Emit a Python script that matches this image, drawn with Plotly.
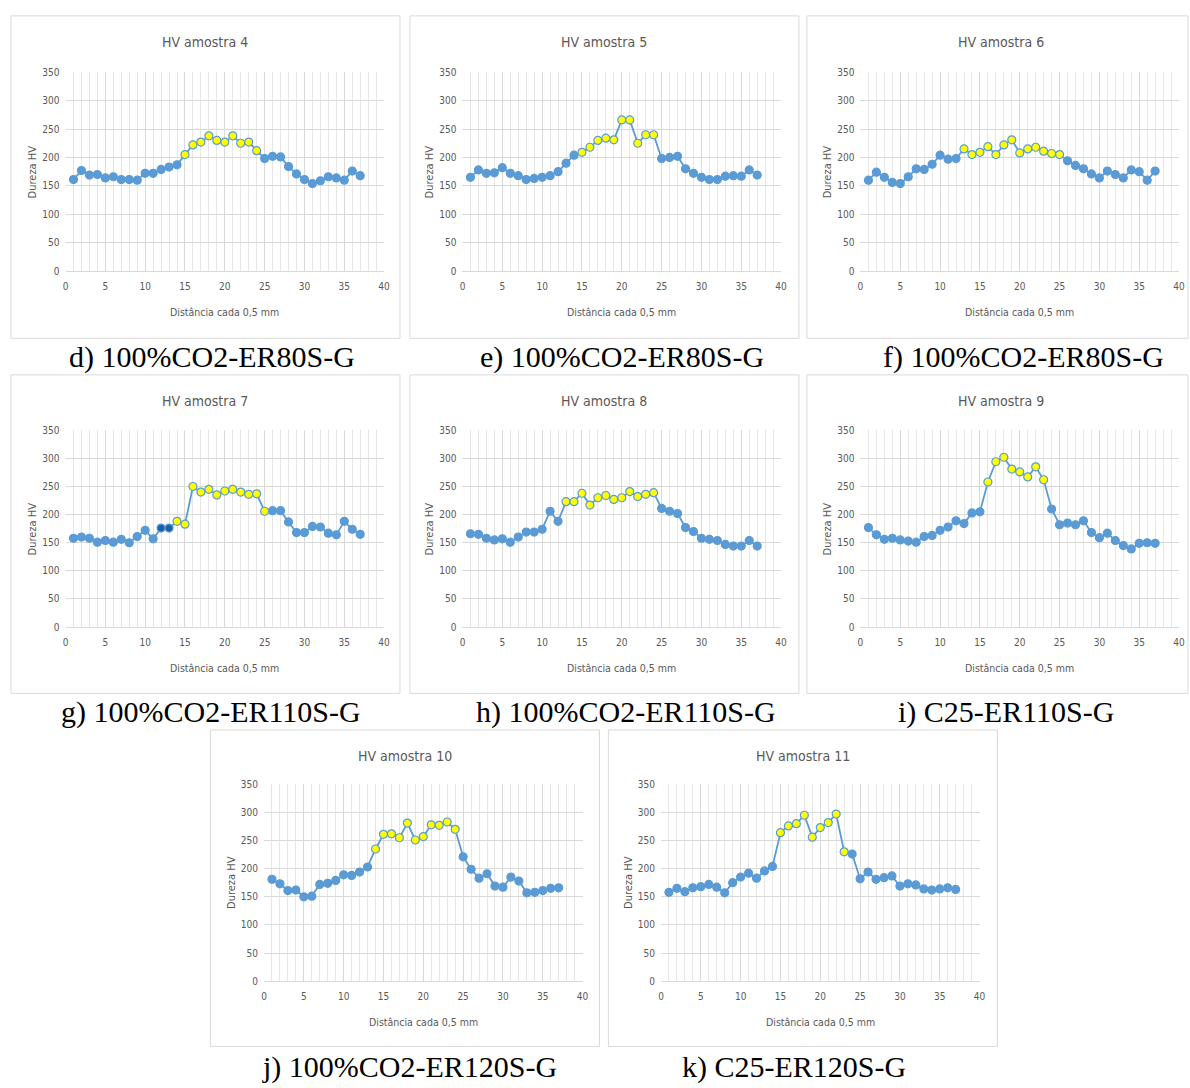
import plotly.graph_objects as go

W, H = 1190, 1088

# ---------------- data ----------------
positions = list(range(1, 38))  # measurement index (every 0.5 mm)

hv_4 = [161, 177, 169, 170, 164, 166, 161, 161, 160, 172, 172, 179, 183, 187, 205, 222, 227, 238, 230, 227,
        238, 225, 227, 212, 198, 202, 201, 184, 171, 161, 154, 159, 166, 164, 160, 176, 168]
hv_5 = [165, 178, 172, 173, 182, 172, 168, 161, 163, 165, 168, 175, 190, 204, 209, 218, 230, 234, 231, 266,
        266, 225, 240, 240, 198, 200, 202, 180, 172, 165, 161, 161, 167, 168, 167, 178, 169]
hv_6 = [160, 174, 165, 156, 154, 166, 180, 179, 188, 204, 197, 198, 215, 205, 209, 219, 205, 222, 231, 208,
        215, 218, 211, 207, 205, 194, 186, 180, 171, 164, 176, 170, 164, 178, 175, 160, 176]
hv_7 = [158, 160, 158, 151, 154, 151, 156, 150, 161, 172, 157, 176, 176, 188, 183, 250, 240, 245, 235, 242,
        245, 240, 236, 237, 206, 207, 207, 187, 168, 168, 179, 178, 167, 164, 188, 174, 165]
hv_8 = [166, 165, 158, 155, 157, 151, 160, 169, 169, 174, 206, 188, 223, 223, 238, 217, 230, 234, 227, 230,
        241, 232, 236, 239, 211, 206, 202, 177, 170, 158, 156, 154, 147, 144, 144, 154, 144]
hv_9 = [177, 164, 156, 158, 155, 153, 151, 161, 163, 172, 178, 189, 184, 203, 205, 258, 294, 302, 281, 276,
        267, 285, 262, 210, 182, 185, 182, 189, 168, 159, 167, 154, 145, 139, 149, 150, 149]
hv_10 = [181, 173, 161, 162, 150, 151, 172, 174, 179, 189, 188, 194, 203, 235, 261, 262, 255, 281, 251, 257,
         278, 277, 283, 270, 221, 199, 183, 191, 169, 167, 185, 178, 157, 158, 161, 165, 166]
hv_11 = [158, 165, 159, 166, 168, 172, 167, 157, 175, 185, 192, 183, 196, 204, 264, 276, 280, 295, 256, 273,
         282, 297, 230, 226, 182, 194, 181, 184, 187, 169, 173, 171, 164, 162, 164, 166, 163]

# positions drawn with yellow markers (fusion zone) in each sample
yellow_4 = [15, 16, 17, 18, 19, 20, 21, 22, 23, 24]
yellow_5 = [15, 16, 17, 18, 19, 20, 21, 22, 23, 24]
yellow_6 = [13, 14, 15, 16, 17, 18, 19, 20, 21, 22, 23, 24, 25]
yellow_7 = [14, 15, 16, 17, 18, 19, 20, 21, 22, 23, 24, 25]
yellow_8 = [13, 14, 15, 16, 17, 18, 19, 20, 21, 22, 23, 24]
yellow_9 = [16, 17, 18, 19, 20, 21, 22, 23]
yellow_10 = [14, 15, 16, 17, 18, 19, 20, 21, 22, 23, 24]
yellow_11 = [15, 16, 17, 18, 19, 20, 21, 22, 23]
dark_7 = [12, 13]

titles = ["HV amostra 4", "HV amostra 5", "HV amostra 6", "HV amostra 7",
          "HV amostra 8", "HV amostra 9", "HV amostra 10", "HV amostra 11"]
captions = ["d) 100%CO2-ER80S-G", "e) 100%CO2-ER80S-G", "f) 100%CO2-ER80S-G",
            "g) 100%CO2-ER110S-G", "h) 100%CO2-ER110S-G", "i) C25-ER110S-G",
            "j) 100%CO2-ER120S-G", "k) C25-ER120S-G"]
x_title = "Distância cada 0,5 mm"
y_title = "Dureza HV"

series = [hv_4, hv_5, hv_6, hv_7, hv_8, hv_9, hv_10, hv_11]
yellows = [yellow_4, yellow_5, yellow_6, yellow_7, yellow_8, yellow_9, yellow_10, yellow_11]
darks = [[], [], [], dark_7, [], [], [], []]

# ---------------- layout geometry (pixels) ----------------
# plot area: L, R, T, B ; box: x0, y0, x1, y1 ; caption center x, y
panels = [
    dict(L=63, R=384, T=67, B=268, box=(8, 10, 400, 336), cap=(211, 355)),
    dict(L=463, R=784, T=67, B=268, box=(410, 10, 802, 336), cap=(624, 355)),
    dict(L=864, R=1185, T=67, B=268, box=(810, 10, 1194, 336), cap=(1028, 355)),
    dict(L=63, R=384, T=429, B=628, box=(8, 373, 400, 695), cap=(210, 714)),
    dict(L=463, R=784, T=429, B=628, box=(410, 373, 802, 695), cap=(628, 714)),
    dict(L=864, R=1185, T=429, B=628, box=(810, 373, 1194, 695), cap=(1011, 714)),
    dict(L=263, R=584, T=787, B=986, box=(209, 732, 601, 1052), cap=(410, 1073)),
    dict(L=663, R=984, T=787, B=986, box=(610, 732, 1002, 1052), cap=(797, 1073)),
]

BLUE = "#5b9bd5"
YEL = "#ffff00"
DARK = "#1f5fa8"
GRID = "#d9d9d9"
TXT = "#595959"
SANS = "Liberation Sans Narrow, DejaVu Sans Condensed, Roboto, sans-serif"
SERIF = "Liberation Serif, Times New Roman, serif"

def px(x):
    return x / W

def py(y):
    return 1 - y / H

fig = go.Figure()
shapes = []
annotations = []
layout_axes = {}

for i, (p, vals, yl, dk) in enumerate(zip(panels, series, yellows, darks)):
    n = i + 1
    xa = "x" if n == 1 else f"x{n}"
    ya = "y" if n == 1 else f"y{n}"
    colors = []
    for xv in positions:
        if xv in yl:
            colors.append(YEL)
        elif xv in dk:
            colors.append(DARK)
        else:
            colors.append(BLUE)
    fig.add_trace(go.Scatter(
        x=positions, y=vals, mode="lines+markers", xaxis=xa, yaxis=ya,
        line=dict(color=BLUE, width=1.8),
        marker=dict(size=8, color=colors, line=dict(color=BLUE, width=1.2)),
        showlegend=False, hoverinfo="x+y"))

    layout_axes[f"xaxis{'' if n == 1 else n}"] = dict(
        domain=[px(p["L"]), px(p["R"])], anchor=ya, range=[0, 40], dtick=5,
        showgrid=True, gridcolor=GRID, gridwidth=1,
        minor=dict(dtick=1, showgrid=True, gridcolor="#e6e6e6", gridwidth=1),
        showline=True, linecolor=GRID, linewidth=1, zeroline=False,
        ticks="", ticklabelstandoff=6,
        tickfont=dict(family=SANS, size=10, color=TXT), fixedrange=True)
    layout_axes[f"yaxis{'' if n == 1 else n}"] = dict(
        domain=[py(p["B"]), py(p["T"])], anchor=xa, range=[0, 350], dtick=50,
        showgrid=True, gridcolor=GRID, gridwidth=1, zeroline=False, showline=False,
        ticks="", ticklabelstandoff=5,
        tickfont=dict(family=SANS, size=10, color=TXT), fixedrange=True)

    bx0, by0, bx1, by1 = p["box"]
    shapes.append(dict(type="rect", xref="paper", yref="paper",
                       x0=px(bx0), x1=px(bx1), y0=py(by1), y1=py(by0),
                       line=dict(color="#d9d9d9", width=1), fillcolor="rgba(0,0,0,0)", layer="below"))
    cx = (p["L"] + p["R"]) / 2
    # title
    annotations.append(dict(text=titles[i], xref="paper", yref="paper",
                            x=px(bx0 + 196), y=py(by0 + 26), xanchor="center", yanchor="middle",
                            showarrow=False, font=dict(family=SANS, size=14, color=TXT)))
    # axis titles
    annotations.append(dict(text=x_title, xref="paper", yref="paper", x=px(cx), y=py(p["B"] + 41),
                            xanchor="center", yanchor="middle", showarrow=False,
                            font=dict(family=SANS, size=10.5, color=TXT)))
    annotations.append(dict(text=y_title, xref="paper", yref="paper", x=px(p["L"] - 33),
                            y=py((p["T"] + p["B"]) / 2), xanchor="center", yanchor="middle",
                            textangle=-90, showarrow=False,
                            font=dict(family=SANS, size=11, color=TXT)))
    # caption
    annotations.append(dict(text=captions[i], xref="paper", yref="paper",
                            x=px(p["cap"][0]), y=py(p["cap"][1]), xanchor="center", yanchor="middle",
                            showarrow=False, font=dict(family=SERIF, size=30, color="black")))

fig.update_layout(
    width=W, height=H, margin=dict(l=0, r=0, t=0, b=0),
    paper_bgcolor="white", plot_bgcolor="white",
    shapes=shapes, annotations=annotations, **layout_axes)

fig.write_html(
    "out.html",
    config={"displayModeBar": False},
    post_script=("document.documentElement.style.margin='0px';"
                 "document.body.style.margin='0px';"
                 "document.body.style.padding='0px';"
                 "document.documentElement.style.overflow='hidden';"
                 "document.body.style.overflow='hidden';"),
)
